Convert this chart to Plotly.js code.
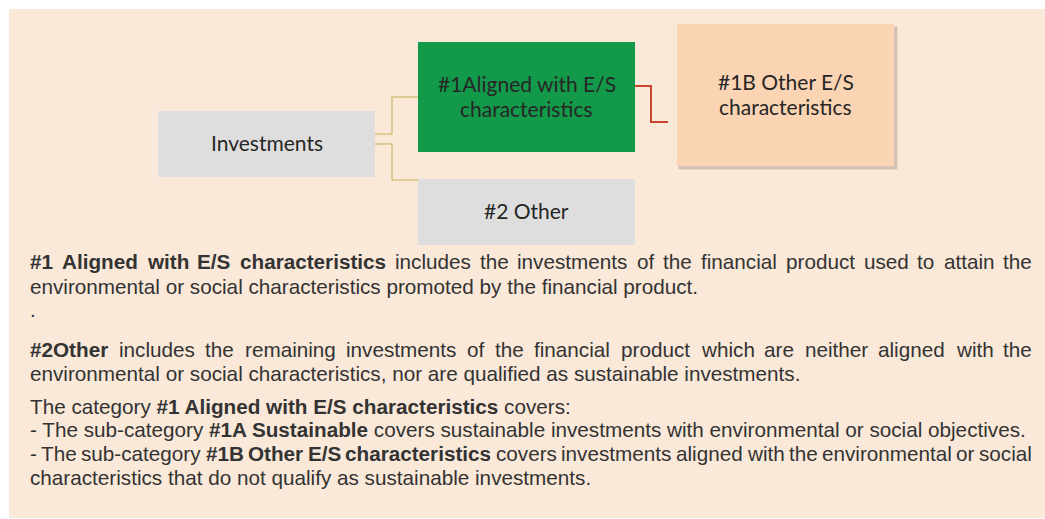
<!DOCTYPE html>
<html><head><meta charset="utf-8">
<script src="https://cdn.plot.ly/plotly-3.0.1.min.js"></script>
<style>html,body{margin:0;padding:0;background:#fff;} #chart{width:1045px;height:519px;}</style>
</head><body><div id="chart"></div>
<script>
// ---- content ----
const boxLabels = [["Investments"], ["#1Aligned with E/S", "characteristics"], ["#2 Other"], ["#1B Other E/S", "characteristics"]];
const boxColors = ["#DEDEDE", "#13994A", "#DEDEDE", "#FBD4B4"];
// each line: list of [text, bold]
const bodyLines = [
  [["#1 Aligned with E/S characteristics", 1], [" includes the investments of the financial product used to attain the", 0]],
  [["environmental or social characteristics promoted by the financial product.", 0]],
  [[".", 0]],
  [["#2Other", 1], [" includes the remaining investments of the financial product which are neither aligned with the", 0]],
  [["environmental or social characteristics, nor are qualified as sustainable investments.", 0]],
  [["The category ", 0], ["#1 Aligned with E/S characteristics", 1], [" covers:", 0]],
  [["- The sub-category ", 0], ["#1A Sustainable", 1], [" covers sustainable investments with environmental or social objectives.", 0]],
  [["- The sub-category ", 0], ["#1B Other E/S characteristics", 1], [" covers investments aligned with the environmental or social", 0]],
  [["characteristics that do not qualify as sustainable investments.", 0]]
];
const justified = [true, false, false, true, false, false, false, true, false];

// ---- layout geometry ----
const W = 1045, H = 519;
const boxGeom = [[158, 111, 375, 177], [418, 42, 635, 152], [418, 179, 635, 245], [677, 24, 894, 166]];
const lineY = [261, 286, 309, 349, 373, 406, 429, 453, 477];
const textLeft = 29, textRight = 1031;
const bodyFont = "Liberation Sans, Arial, sans-serif";
const bodySize = 20.7;
const boxFont = "Lato, sans-serif";
const boxSize = 21;
const boxLineGap = 25;
const boxTextShift = -1.5;

const shapes = [];
const annotations = [];
// panel
shapes.push({type: "rect", xref: "x", yref: "y", x0: 9, y0: 9, x1: W, y1: 518, fillcolor: "#FAE8D8", line: {width: 0}, layer: "below"});
// shadow for 1B box
shapes.push({type: "rect", xref: "x", yref: "y", x0: 678, y0: 26, x1: 897, y1: 169, fillcolor: "rgba(120,100,90,0.18)", line: {width: 0}});
shapes.push({type: "rect", xref: "x", yref: "y", x0: 679, y0: 27, x1: 898, y1: 170, fillcolor: "rgba(120,100,90,0.12)", line: {width: 0}});
// boxes
boxGeom.forEach((g, i) => {
  shapes.push({type: "rect", xref: "x", yref: "y", x0: g[0], y0: g[1], x1: g[2], y1: g[3], fillcolor: boxColors[i], line: {width: 0}});
  const lines = boxLabels[i];
  const cx = (g[0] + g[2]) / 2, cy = (g[1] + g[3]) / 2 + boxTextShift;
  lines.forEach((t, k) => {
    annotations.push({xref: "x", yref: "y", x: cx, y: cy + (k - (lines.length - 1) / 2) * boxLineGap, text: t, showarrow: false,
      xanchor: "center", yanchor: "middle", borderpad: 0, font: {family: boxFont, size: boxSize, color: "#262626"}});
  });
});
// connectors
const gold = "#D3C27E";
shapes.push({type: "path", xref: "x", yref: "y", path: "M375,134 H392 V97 H418", line: {color: gold, width: 1.5}});
shapes.push({type: "path", xref: "x", yref: "y", path: "M375,144 H392 V180 H418", line: {color: gold, width: 1.5}});
shapes.push({type: "path", xref: "x", yref: "y", path: "M635,86 H651 V122 H668", line: {color: "#C9452A", width: 2}});

// body text
const cv = document.createElement("canvas").getContext("2d");
function measure(t, bold) {
  cv.font = (bold ? "bold " : "") + bodySize + "px 'Liberation Sans', Arial";
  return cv.measureText(t).width;
}
function seg(t, b) { return b ? "<b>" + t + "</b>" : t; }
bodyLines.forEach((segs, i) => {
  const y = lineY[i];
  if (!justified[i]) {
    annotations.push({xref: "x", yref: "y", x: textLeft, y: y, text: segs.map(s => seg(s[0], s[1])).join(""), showarrow: false,
      xanchor: "left", yanchor: "middle", borderpad: 0, font: {family: bodyFont, size: bodySize, color: "#333333"}});
  } else {
    const words = [];
    segs.forEach(s => s[0].split(" ").forEach(w => { if (w.length) words.push([w, s[1]]); }));
    const widths = words.map(w => measure(w[0], w[1]));
    const total = widths.reduce((a, b) => a + b, 0);
    const gap = (textRight - textLeft - total) / (words.length - 1);
    let x = textLeft;
    words.forEach((w, k) => {
      annotations.push({xref: "x", yref: "y", x: x, y: y, text: seg(w[0], w[1]), showarrow: false,
        xanchor: "left", yanchor: "middle", borderpad: 0, font: {family: bodyFont, size: bodySize, color: "#333333"}});
      x += widths[k] + gap;
    });
  }
});

const layout = {
  width: W, height: H, margin: {l: 0, r: 0, t: 0, b: 0},
  paper_bgcolor: "#FFFFFF", plot_bgcolor: "rgba(0,0,0,0)",
  xaxis: {range: [0, W], visible: false, fixedrange: true},
  yaxis: {range: [H, 0], visible: false, fixedrange: true},
  showlegend: false, shapes: shapes, annotations: annotations
};
Plotly.newPlot("chart", [], layout, {displayModeBar: false, staticPlot: true});
</script></body></html>
